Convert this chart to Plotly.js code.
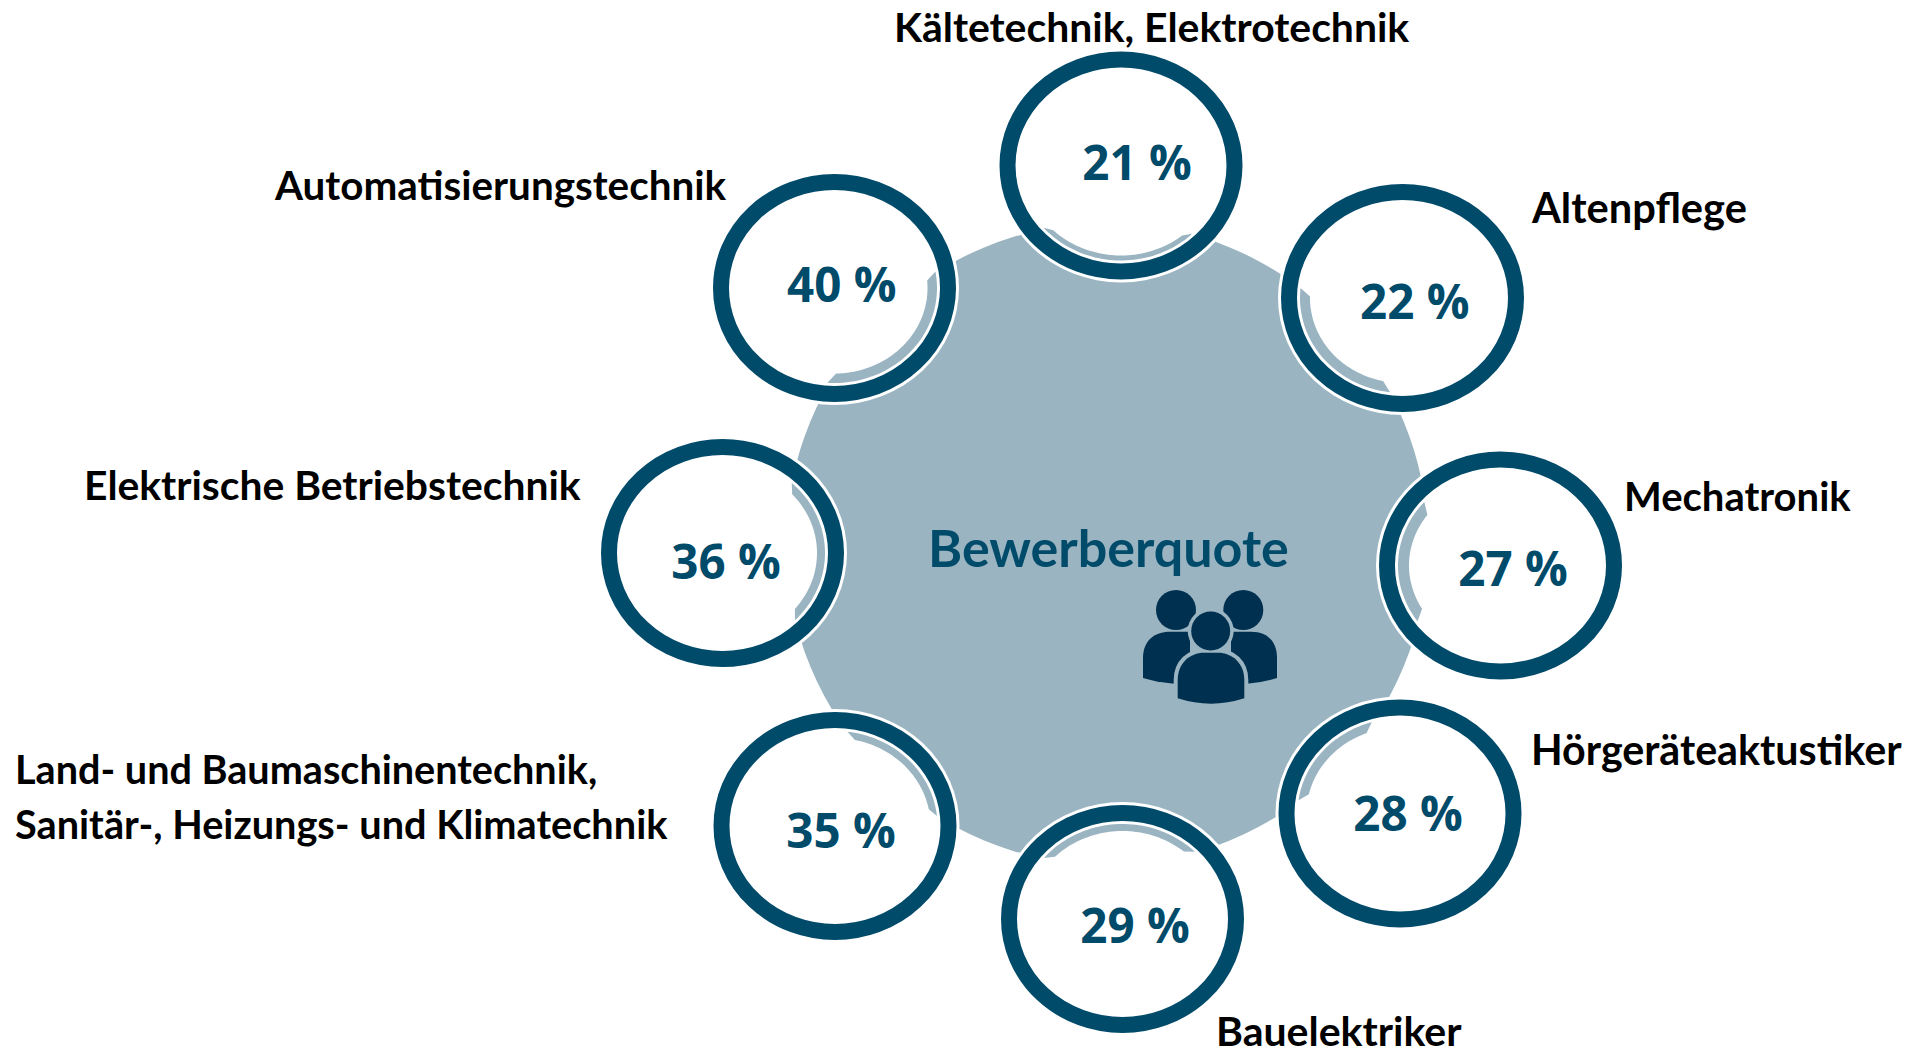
<!DOCTYPE html>
<html lang="de">
<head>
<meta charset="utf-8">
<title>Bewerberquote</title>
<script src="https://cdn.plot.ly/plotly-3.0.1.min.js"></script>
<style>html,body{margin:0;padding:0;background:#fff}#chart{width:1911px;height:1048px}</style>
</head>
<body>
<div id="chart"></div>
<script>
// Data
const centerTitle = "Bewerberquote";
const categories = [
  "Kältetechnik, Elektrotechnik",
  "Altenpflege",
  "Mechatronik",
  "Hörgeräteaktustiker",
  "Bauelektriker",
  "Land- und Baumaschinentechnik,<br>Sanitär-, Heizungs- und Klimatechnik",
  "Elektrische Betriebstechnik",
  "Automatisierungstechnik"
];
const quotas = [21, 22, 27, 28, 29, 35, 36, 40];

// Layout of the diagram (pixel-like axis units)
const ringX  = [1121, 1402.5, 1500.5, 1400, 1122.5, 835, 722.5, 834.5];
const ringY  = [165.5, 298, 565.5, 813.5, 919, 826, 553, 288];
const valueX = [1137, 1414.7, 1513, 1408, 1135, 841, 726, 841.7];
const valueY = [168, 306.7, 574, 819, 931, 836.5, 567, 290];
const arcFrom  = [136, 187, 234, 278, 310, 7, 42.5, 80];
const arcTo    = [229, 276, 312, 344, 405, 84, 135, 184];
const arcThick = [5, 10, 11, 9, 7, 7, 8, 9.5];
const labelX = [891.5, 1529, 1622, 1529, 1214, 13, 82, 272];
const labelY = [[26], [207], [496], [748.5], [1030.5], [768, 823], [484], [184]];
const labelSize = [[40.9], [41.6], [40], [41.2], [41], [39.6, 39.7], [40.8], [40.4]];

const ringColor = "#004A6A", discColor = "#9AB4C1", iconColor = "#00304F";
const labelFont = "Lato, 'Noto Sans', sans-serif", valueFont = "'Open Sans', sans-serif";
const RX = 121.5, RY = 114, STROKE = 16, HALO = 3;

function ell(cx, cy, rx, ry, opts) {
  return Object.assign({type: "circle", xref: "x", yref: "y", x0: cx - rx, x1: cx + rx, y0: cy - ry, y1: cy + ry,
    line: {width: 0}, layer: "below"}, opts);
}
function path(d, opts) { return Object.assign({type: "path", xref: "x", yref: "y", path: d, line: {width: 0}, layer: "below"}, opts); }

function arcPath(cx, cy, from, to, thick) {
  const ox = RX - STROKE - 3, oy = RY - STROKE - 3, inset = 5, n = 48, pts = [];
  for (let i = 0; i <= n; i++) {
    const a = (from + (to - from) * i / n) * Math.PI / 180;
    pts.push([cx + ox * Math.sin(a), cy - oy * Math.cos(a)]);
  }
  for (let i = n; i >= 0; i--) {
    const a = (from + inset + (to - from - 2 * inset) * i / n) * Math.PI / 180;
    pts.push([cx + (ox - thick) * Math.sin(a), cy - (oy - thick) * Math.cos(a)]);
  }
  return "M" + pts.map(p => p[0].toFixed(2) + "," + p[1].toFixed(2)).join("L") + "Z";
}

const shapes = [];
shapes.push(ell(1107, 544, 321, 321, {fillcolor: discColor}));
quotas.forEach((q, i) => {
  shapes.push(ell(ringX[i], ringY[i], RX + HALO, RY + HALO, {fillcolor: "#fff"}));
  shapes.push(ell(ringX[i], ringY[i], RX - STROKE / 2, RY - STROKE / 2, {fillcolor: "#fff", line: {color: ringColor, width: STROKE}}));
  shapes.push(path(arcPath(ringX[i], ringY[i], arcFrom[i], arcTo[i], arcThick[i]), {fillcolor: discColor}));
});

// People icon
const backBodyL = "M1143,678 L1143,658 C1143,641 1154,631.7 1170,631.7 L1190,631.7 L1190,685 L1172,683.5 Q1156,682 1143,678 Z";
const backBodyR = "M1277,678 L1277,658 C1277,641 1267,631.7 1251,631.7 L1231,631.7 L1231,685 L1249,683.5 Q1265,682 1277,678 Z";
const frontBody = "M1177.7,698.3 L1177.7,680 C1177.7,663 1190,652.7 1204,652.7 L1218,652.7 C1232,652.7 1244.3,663 1244.3,680 L1244.3,698.3 Q1211,709 1177.7,698.3 Z";
shapes.push(path(backBodyL, {fillcolor: iconColor}));
shapes.push(path(backBodyR, {fillcolor: iconColor}));
shapes.push(ell(1176, 610, 20, 20, {fillcolor: iconColor}));
shapes.push(ell(1243.3, 610, 20, 20, {fillcolor: iconColor}));
shapes.push(path(frontBody, {fillcolor: discColor, line: {color: discColor, width: 8}}));
shapes.push(ell(1210.7, 631, 23, 23, {fillcolor: discColor}));
shapes.push(path(frontBody, {fillcolor: iconColor}));
shapes.push(ell(1210.7, 631, 19.5, 19.5, {fillcolor: iconColor}));

const annotations = [];
categories.forEach((c, i) => {
  c.split("<br>").forEach((line, k) => annotations.push({
    xref: "x", yref: "y", x: labelX[i], y: labelY[i][k], text: line, showarrow: false,
    xanchor: "left", yanchor: "middle",
    font: {family: labelFont, size: labelSize[i][k], color: "#000", weight: 700}
  }));
});
annotations.push({xref: "x", yref: "y", x: 1108, y: 546.5, text: centerTitle, showarrow: false, xanchor: "center", yanchor: "middle",
  font: {family: labelFont, size: 52, color: ringColor, weight: 700}});

const traces = [{
  type: "scatter", mode: "text", x: valueX, y: valueY,
  text: quotas.map(q => q + " %"), textposition: "middle center",
  textfont: {family: valueFont, size: 47.5, color: ringColor, weight: 700},
  hoverinfo: "skip", showlegend: false, cliponaxis: false
}];

Plotly.newPlot("chart", traces, {
  width: 1911, height: 1048, margin: {l: 0, r: 0, t: 0, b: 0},
  paper_bgcolor: "#fff", plot_bgcolor: "#fff", showlegend: false,
  xaxis: {range: [0, 1911], visible: false, fixedrange: true},
  yaxis: {range: [1048, 0], visible: false, fixedrange: true},
  shapes, annotations
}, {displayModeBar: false, staticPlot: true});
</script>
</body>
</html>
